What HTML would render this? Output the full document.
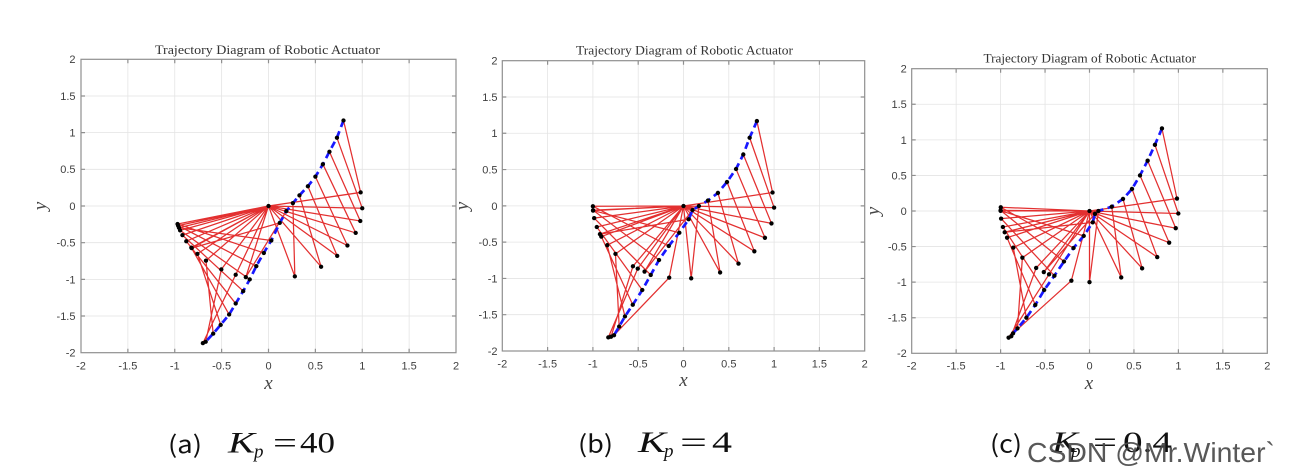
<!DOCTYPE html>
<html>
<head>
<meta charset="utf-8">
<style>
html,body{margin:0;padding:0;background:#fff;}
svg{display:block;}
.tk{font-family:"Liberation Sans",sans-serif;font-size:11px;fill:#404040;}
.ttl{font-family:"Liberation Serif",serif;font-size:13px;fill:#333;}
.al{font-family:"Liberation Serif",serif;font-style:italic;font-size:19px;fill:#444;}
.red{fill:none;stroke:#e01a1a;stroke-width:1.25;stroke-opacity:0.9;}
.blue{fill:none;stroke:#1818ff;stroke-width:2.7;stroke-dasharray:7 4.5;}
.grid{fill:none;stroke:#e4e4e4;stroke-width:0.8;}
.ax{fill:none;stroke:#8f8f8f;stroke-width:1.2;}
.cap{font-family:"Noto Sans CJK SC","Liberation Sans",sans-serif;font-size:24px;fill:#111;}
.mk{font-family:"Liberation Serif",serif;font-style:italic;fill:#111;}
.mn{font-family:"Liberation Serif",serif;fill:#111;}
</style>
</head>
<body>
<svg width="1292" height="472" viewBox="0 0 1292 472" xmlns="http://www.w3.org/2000/svg">
<rect width="1292" height="472" fill="#fff"/>

<!-- ================= PLOT 1 ================= -->
<path class="grid" d="M127.875 59.3V352.7M174.75 59.3V352.7M221.625 59.3V352.7M268.5 59.3V352.7M315.375 59.3V352.7M362.25 59.3V352.7M409.125 59.3V352.7M81 95.975H456M81 132.65H456M81 169.325H456M81 206H456M81 242.675H456M81 279.35H456M81 316.025H456"/>
<rect class="ax" x="81" y="59.3" width="375" height="293.4"/>
<path class="ax" d="M127.875 352.7v-4M174.75 352.7v-4M221.625 352.7v-4M268.5 352.7v-4M315.375 352.7v-4M362.25 352.7v-4M409.125 352.7v-4M127.875 59.3v4M174.75 59.3v4M221.625 59.3v4M268.5 59.3v4M315.375 59.3v4M362.25 59.3v4M409.125 59.3v4M81 95.975h4M81 132.65h4M81 169.325h4M81 206h4M81 242.675h4M81 279.35h4M81 316.025h4M456 95.975h-4M456 132.65h-4M456 169.325h-4M456 206h-4M456 242.675h-4M456 279.35h-4M456 316.025h-4"/>
<text class="ttl" x="155" y="54" textLength="225" lengthAdjust="spacingAndGlyphs">Trajectory Diagram of Robotic Actuator</text>
<g class="tk" text-anchor="end">
<text x="75.5" y="63.2">2</text><text x="75.5" y="99.9">1.5</text><text x="75.5" y="136.6">1</text><text x="75.5" y="173.2">0.5</text><text x="75.5" y="209.9">0</text><text x="75.5" y="246.6">-0.5</text><text x="75.5" y="283.3">-1</text><text x="75.5" y="319.9">-1.5</text><text x="75.5" y="356.6">-2</text>
</g>
<g class="tk" text-anchor="middle">
<text x="81" y="369.5">-2</text><text x="127.9" y="369.5">-1.5</text><text x="174.75" y="369.5">-1</text><text x="221.6" y="369.5">-0.5</text><text x="268.5" y="369.5">0</text><text x="315.4" y="369.5">0.5</text><text x="362.25" y="369.5">1</text><text x="409.1" y="369.5">1.5</text><text x="456" y="369.5">2</text>
</g>
<text class="al" x="268.5" y="389" text-anchor="middle">x</text>
<text class="al" transform="translate(46,206) rotate(-90)" text-anchor="middle">y</text>
<g transform="translate(268.5,206) scale(93.75,-73.35)">
<path class="red" vector-effect="non-scaling-stroke" d="M0 0L.983 .185L.80 1.166M0 0L1 -.03L.73 .93M0 0L.979 -.204L.65 .74M0 0L.93 -.367L.58 .57M0 0L.842 -.539L.5 .4M0 0L.733 -.68L.42 .27M0 0L.561 -.828L.33 .145M0 0L.281 -.96L.26 .04M0 0L-.242 -.97L.19 -.07M0 0L-.819 -.574L.12 -.23M0 0L-.955 -.297L.03 -.47M0 0L-.97 -.245L-.05 -.64M0 0L-.964 -.267L-.13 -.82M0 0L-.943 -.332L-.2 -1M0 0L-.918 -.397L-.27 -1.16M0 0L-.877 -.48L-.35 -1.33M0 0L-.823 -.568L-.42 -1.48M0 0L-.758 -.652L-.51 -1.62M0 0L-.667 -.745L-.59 -1.74M0 0L-.503 -.864L-.67 -1.85M0 0L-.35 -.937L-.7 -1.87"/>
</g>
<polyline class="blue" points="343.5,120.5 336.9,137.8 329.4,151.7 322.9,164.2 315.4,176.7 307.9,186.2 299.4,195.4 292.9,203.1 286.3,211.1 279.8,222.9 271.3,240.5 263.8,252.9 256.3,266.1 249.8,279.4 243.2,291.1 235.7,303.6 229.1,314.6 220.7,324.8 213.2,333.6 205.7,341.7 202.9,343.2"/>
<g transform="translate(268.5,206) scale(93.75,-73.35)" fill="#000">
<ellipse cx="0" cy="0" rx=".023" ry=".029"/>
<ellipse cx=".983" cy=".185" rx=".023" ry=".029"/><ellipse cx=".80" cy="1.166" rx=".023" ry=".029"/>
<ellipse cx="1" cy="-.03" rx=".023" ry=".029"/><ellipse cx=".73" cy=".93" rx=".023" ry=".029"/>
<ellipse cx=".979" cy="-.204" rx=".023" ry=".029"/><ellipse cx=".65" cy=".74" rx=".023" ry=".029"/>
<ellipse cx=".93" cy="-.367" rx=".023" ry=".029"/><ellipse cx=".58" cy=".57" rx=".023" ry=".029"/>
<ellipse cx=".842" cy="-.539" rx=".023" ry=".029"/><ellipse cx=".5" cy=".4" rx=".023" ry=".029"/>
<ellipse cx=".733" cy="-.68" rx=".023" ry=".029"/><ellipse cx=".42" cy=".27" rx=".023" ry=".029"/>
<ellipse cx=".561" cy="-.828" rx=".023" ry=".029"/><ellipse cx=".33" cy=".145" rx=".023" ry=".029"/>
<ellipse cx=".281" cy="-.96" rx=".023" ry=".029"/><ellipse cx=".26" cy=".04" rx=".023" ry=".029"/>
<ellipse cx="-.242" cy="-.97" rx=".023" ry=".029"/><ellipse cx=".19" cy="-.07" rx=".023" ry=".029"/>
<ellipse cx="-.819" cy="-.574" rx=".023" ry=".029"/><ellipse cx=".12" cy="-.23" rx=".023" ry=".029"/>
<ellipse cx="-.955" cy="-.297" rx=".023" ry=".029"/><ellipse cx=".03" cy="-.47" rx=".023" ry=".029"/>
<ellipse cx="-.97" cy="-.245" rx=".023" ry=".029"/><ellipse cx="-.05" cy="-.64" rx=".023" ry=".029"/>
<ellipse cx="-.964" cy="-.267" rx=".023" ry=".029"/><ellipse cx="-.13" cy="-.82" rx=".023" ry=".029"/>
<ellipse cx="-.943" cy="-.332" rx=".023" ry=".029"/><ellipse cx="-.2" cy="-1" rx=".023" ry=".029"/>
<ellipse cx="-.918" cy="-.397" rx=".023" ry=".029"/><ellipse cx="-.27" cy="-1.16" rx=".023" ry=".029"/>
<ellipse cx="-.877" cy="-.48" rx=".023" ry=".029"/><ellipse cx="-.35" cy="-1.33" rx=".023" ry=".029"/>
<ellipse cx="-.823" cy="-.568" rx=".023" ry=".029"/><ellipse cx="-.42" cy="-1.48" rx=".023" ry=".029"/>
<ellipse cx="-.758" cy="-.652" rx=".023" ry=".029"/><ellipse cx="-.51" cy="-1.62" rx=".023" ry=".029"/>
<ellipse cx="-.667" cy="-.745" rx=".023" ry=".029"/><ellipse cx="-.59" cy="-1.74" rx=".023" ry=".029"/>
<ellipse cx="-.503" cy="-.864" rx=".023" ry=".029"/><ellipse cx="-.67" cy="-1.85" rx=".023" ry=".029"/>
<ellipse cx="-.35" cy="-.937" rx=".023" ry=".029"/><ellipse cx="-.7" cy="-1.87" rx=".023" ry=".029"/>
</g>

<!-- ================= PLOT 2 ================= -->
<path class="grid" d="M547.6 60.7V351M592.9 60.7V351M638.2 60.7V351M683.5 60.7V351M728.8 60.7V351M774.1 60.7V351M819.4 60.7V351M502.3 96.99H864.7M502.3 133.28H864.7M502.3 169.56H864.7M502.3 205.85H864.7M502.3 242.14H864.7M502.3 278.43H864.7M502.3 314.71H864.7"/>
<rect class="ax" x="502.3" y="60.7" width="362.4" height="290.3"/>
<path class="ax" d="M547.6 351v-4M592.9 351v-4M638.2 351v-4M683.5 351v-4M728.8 351v-4M774.1 351v-4M819.4 351v-4M547.6 60.7v4M592.9 60.7v4M638.2 60.7v4M683.5 60.7v4M728.8 60.7v4M774.1 60.7v4M819.4 60.7v4M502.3 96.99h4M502.3 133.28h4M502.3 169.56h4M502.3 205.85h4M502.3 242.14h4M502.3 278.43h4M502.3 314.71h4M864.7 96.99h-4M864.7 133.28h-4M864.7 169.56h-4M864.7 205.85h-4M864.7 242.14h-4M864.7 278.43h-4M864.7 314.71h-4"/>
<text class="ttl" x="576" y="54.5" textLength="217" lengthAdjust="spacingAndGlyphs">Trajectory Diagram of Robotic Actuator</text>
<g class="tk" text-anchor="end">
<text x="497.5" y="64.6">2</text><text x="497.5" y="100.9">1.5</text><text x="497.5" y="137.2">1</text><text x="497.5" y="173.5">0.5</text><text x="497.5" y="209.8">0</text><text x="497.5" y="246.1">-0.5</text><text x="497.5" y="282.3">-1</text><text x="497.5" y="318.6">-1.5</text><text x="497.5" y="354.9">-2</text>
</g>
<g class="tk" text-anchor="middle">
<text x="502.3" y="367.5">-2</text><text x="547.6" y="367.5">-1.5</text><text x="592.9" y="367.5">-1</text><text x="638.2" y="367.5">-0.5</text><text x="683.5" y="367.5">0</text><text x="728.8" y="367.5">0.5</text><text x="774.1" y="367.5">1</text><text x="819.4" y="367.5">1.5</text><text x="864.7" y="367.5">2</text>
</g>
<text class="al" x="683.5" y="386" text-anchor="middle">x</text>
<text class="al" transform="translate(468,206) rotate(-90)" text-anchor="middle">y</text>
<g transform="translate(683.5,206) scale(90.6,-72.6)">
<path class="red" vector-effect="non-scaling-stroke" d="M0 0L.983 .186L.81 1.17M0 0L1 -.023L.73 .94M0 0L.971 -.24L.66 .71M0 0L.899 -.438L.58 .51M0 0L.782 -.624L.48 .33M0 0L.607 -.794L.38 .18M0 0L.404 -.915L.27 .076M0 0L.085 -.996L.17 0M0 0L-.43 -.903L.1 -.055M0 0L-.922 -.387L.057 -.183M0 0L-.998 -.063L-.046 -.368M0 0L-1 -.003L-.163 -.551M0 0L-.998 -.058L-.27 -.744M0 0L-.986 -.167L-.362 -.95M0 0L-.957 -.289L-.455 -1.157M0 0L-.907 -.421L-.56 -1.36M0 0L-.842 -.54L-.646 -1.52M0 0L-.751 -.66L-.71 -1.66M0 0L-.158 -.987L-.767 -1.78M0 0L-.558 -.83L-.8 -1.8M0 0L-.505 -.863L-.83 -1.81"/>
</g>
<polyline class="blue" points="756.9,121.1 749.6,137.8 743.3,154.5 736.0,169.0 727.0,182.0 717.9,192.9 708.0,200.5 698.9,206.0 692.6,210.0 688.7,219.3 679.3,232.7 668.7,246.0 659.0,260.0 650.7,275.0 642.3,290.0 632.8,304.7 625.0,316.4 619.2,326.5 614.0,335.2 611.0,336.7 608.3,337.4"/>
<g transform="translate(683.5,206) scale(90.6,-72.6)" fill="#000">
<ellipse cx="0" cy="0" rx=".024" ry=".0295"/>
<ellipse cx=".983" cy=".186" rx=".024" ry=".0295"/><ellipse cx=".81" cy="1.17" rx=".024" ry=".0295"/>
<ellipse cx="1" cy="-.023" rx=".024" ry=".0295"/><ellipse cx=".73" cy=".94" rx=".024" ry=".0295"/>
<ellipse cx=".971" cy="-.24" rx=".024" ry=".0295"/><ellipse cx=".66" cy=".71" rx=".024" ry=".0295"/>
<ellipse cx=".899" cy="-.438" rx=".024" ry=".0295"/><ellipse cx=".58" cy=".51" rx=".024" ry=".0295"/>
<ellipse cx=".782" cy="-.624" rx=".024" ry=".0295"/><ellipse cx=".48" cy=".33" rx=".024" ry=".0295"/>
<ellipse cx=".607" cy="-.794" rx=".024" ry=".0295"/><ellipse cx=".38" cy=".18" rx=".024" ry=".0295"/>
<ellipse cx=".404" cy="-.915" rx=".024" ry=".0295"/><ellipse cx=".27" cy=".076" rx=".024" ry=".0295"/>
<ellipse cx=".085" cy="-.996" rx=".024" ry=".0295"/><ellipse cx=".17" cy="0" rx=".024" ry=".0295"/>
<ellipse cx="-.43" cy="-.903" rx=".024" ry=".0295"/><ellipse cx=".1" cy="-.055" rx=".024" ry=".0295"/>
<ellipse cx="-.922" cy="-.387" rx=".024" ry=".0295"/><ellipse cx=".057" cy="-.183" rx=".024" ry=".0295"/>
<ellipse cx="-.998" cy="-.063" rx=".024" ry=".0295"/><ellipse cx="-.046" cy="-.368" rx=".024" ry=".0295"/>
<ellipse cx="-1" cy="-.003" rx=".024" ry=".0295"/><ellipse cx="-.163" cy="-.551" rx=".024" ry=".0295"/>
<ellipse cx="-.998" cy="-.058" rx=".024" ry=".0295"/><ellipse cx="-.27" cy="-.744" rx=".024" ry=".0295"/>
<ellipse cx="-.986" cy="-.167" rx=".024" ry=".0295"/><ellipse cx="-.362" cy="-.95" rx=".024" ry=".0295"/>
<ellipse cx="-.957" cy="-.289" rx=".024" ry=".0295"/><ellipse cx="-.455" cy="-1.157" rx=".024" ry=".0295"/>
<ellipse cx="-.907" cy="-.421" rx=".024" ry=".0295"/><ellipse cx="-.56" cy="-1.36" rx=".024" ry=".0295"/>
<ellipse cx="-.842" cy="-.54" rx=".024" ry=".0295"/><ellipse cx="-.646" cy="-1.52" rx=".024" ry=".0295"/>
<ellipse cx="-.751" cy="-.66" rx=".024" ry=".0295"/><ellipse cx="-.71" cy="-1.66" rx=".024" ry=".0295"/>
<ellipse cx="-.158" cy="-.987" rx=".024" ry=".0295"/><ellipse cx="-.767" cy="-1.78" rx=".024" ry=".0295"/>
<ellipse cx="-.558" cy="-.83" rx=".024" ry=".0295"/><ellipse cx="-.8" cy="-1.8" rx=".024" ry=".0295"/>
<ellipse cx="-.505" cy="-.863" rx=".024" ry=".0295"/><ellipse cx="-.83" cy="-1.81" rx=".024" ry=".0295"/>
</g>

<!-- ================= PLOT 3 ================= -->
<path class="grid" d="M956.15 68.7V353.3M1000.6 68.7V353.3M1045.05 68.7V353.3M1089.5 68.7V353.3M1133.95 68.7V353.3M1178.4 68.7V353.3M1222.85 68.7V353.3M911.7 104.275H1267.3M911.7 139.85H1267.3M911.7 175.425H1267.3M911.7 211H1267.3M911.7 246.575H1267.3M911.7 282.15H1267.3M911.7 317.725H1267.3"/>
<rect class="ax" x="911.7" y="68.7" width="355.6" height="284.6"/>
<path class="ax" d="M956.15 353.3v-4M1000.6 353.3v-4M1045.05 353.3v-4M1089.5 353.3v-4M1133.95 353.3v-4M1178.4 353.3v-4M1222.85 353.3v-4M956.15 68.7v4M1000.6 68.7v4M1045.05 68.7v4M1089.5 68.7v4M1133.95 68.7v4M1178.4 68.7v4M1222.85 68.7v4M911.7 104.275h4M911.7 139.85h4M911.7 175.425h4M911.7 211h4M911.7 246.575h4M911.7 282.15h4M911.7 317.725h4M1267.3 104.275h-4M1267.3 139.85h-4M1267.3 175.425h-4M1267.3 211h-4M1267.3 246.575h-4M1267.3 282.15h-4M1267.3 317.725h-4"/>
<text class="ttl" x="983.5" y="62.5" textLength="212.5" lengthAdjust="spacingAndGlyphs">Trajectory Diagram of Robotic Actuator</text>
<g class="tk" text-anchor="end">
<text x="906.8" y="72.6">2</text><text x="906.8" y="108.2">1.5</text><text x="906.8" y="143.8">1</text><text x="906.8" y="179.3">0.5</text><text x="906.8" y="214.9">0</text><text x="906.8" y="250.5">-0.5</text><text x="906.8" y="286.1">-1</text><text x="906.8" y="321.6">-1.5</text><text x="906.8" y="357.2">-2</text>
</g>
<g class="tk" text-anchor="middle">
<text x="911.7" y="369.5">-2</text><text x="956.15" y="369.5">-1.5</text><text x="1000.6" y="369.5">-1</text><text x="1045.05" y="369.5">-0.5</text><text x="1089.5" y="369.5">0</text><text x="1133.95" y="369.5">0.5</text><text x="1178.4" y="369.5">1</text><text x="1222.85" y="369.5">1.5</text><text x="1267.3" y="369.5">2</text>
</g>
<text class="al" x="1089" y="389" text-anchor="middle">x</text>
<text class="al" transform="translate(879,211) rotate(-90)" text-anchor="middle">y</text>
<g transform="translate(1089.5,211) scale(88.9,-71.15)">
<path class="red" vector-effect="non-scaling-stroke" d="M0 0L.984 .175L.815 1.16M0 0L.999 -.035L.736 .93M0 0L.97 -.242L.654 .707M0 0L.896 -.445L.568 .5M0 0L.762 -.648L.478 .31M0 0L.592 -.806L.377 .17M0 0L.357 -.934L.25 .06M0 0L0 -1L.1 0M0 0L-.514 -.858L.062 -.04M0 0L-.954 -.299L.036 -.16M0 0L-1 .003L-.065 -.35M0 0L-.998 .052L-.18 -.52M0 0L-1 .009L-.287 -.71M0 0L-.994 -.107L-.395 -.91M0 0L-.974 -.225L-.51 -1.11M0 0L-.927 -.375L-.61 -1.32M0 0L-.857 -.515L-.71 -1.5M0 0L-.755 -.656L-.81 -1.65M0 0L-.204 -.979L-.86 -1.72M0 0L-.6 -.8L-.88 -1.76M0 0L-.455 -.89L-.91 -1.78"/>
</g>
<polyline class="blue" points="1161.95,128.5 1154.9,144.8 1147.6,160.7 1140.0,175.4 1132.0,189.0 1123.0,198.9 1111.7,206.7 1098.4,211.0 1095.0,213.8 1092.7,222.4 1083.7,235.9 1073.5,248.0 1064.0,261.5 1054.4,275.7 1044.2,290.0 1035.3,304.9 1026.4,317.7 1017.5,328.4 1013.0,333.4 1011.3,336.2 1008.6,337.6"/>
<g transform="translate(1089.5,211) scale(88.9,-71.15)" fill="#000">
<ellipse cx="0" cy="0" rx=".0245" ry=".0305"/>
<ellipse cx=".984" cy=".175" rx=".0245" ry=".0305"/><ellipse cx=".815" cy="1.16" rx=".0245" ry=".0305"/>
<ellipse cx=".999" cy="-.035" rx=".0245" ry=".0305"/><ellipse cx=".736" cy=".93" rx=".0245" ry=".0305"/>
<ellipse cx=".97" cy="-.242" rx=".0245" ry=".0305"/><ellipse cx=".654" cy=".707" rx=".0245" ry=".0305"/>
<ellipse cx=".896" cy="-.445" rx=".0245" ry=".0305"/><ellipse cx=".568" cy=".5" rx=".0245" ry=".0305"/>
<ellipse cx=".762" cy="-.648" rx=".0245" ry=".0305"/><ellipse cx=".478" cy=".31" rx=".0245" ry=".0305"/>
<ellipse cx=".592" cy="-.806" rx=".0245" ry=".0305"/><ellipse cx=".377" cy=".17" rx=".0245" ry=".0305"/>
<ellipse cx=".357" cy="-.934" rx=".0245" ry=".0305"/><ellipse cx=".25" cy=".06" rx=".0245" ry=".0305"/>
<ellipse cx="0" cy="-1" rx=".0245" ry=".0305"/><ellipse cx=".1" cy="0" rx=".0245" ry=".0305"/>
<ellipse cx="-.514" cy="-.858" rx=".0245" ry=".0305"/><ellipse cx=".062" cy="-.04" rx=".0245" ry=".0305"/>
<ellipse cx="-.954" cy="-.299" rx=".0245" ry=".0305"/><ellipse cx=".036" cy="-.16" rx=".0245" ry=".0305"/>
<ellipse cx="-1" cy=".003" rx=".0245" ry=".0305"/><ellipse cx="-.065" cy="-.35" rx=".0245" ry=".0305"/>
<ellipse cx="-.998" cy=".052" rx=".0245" ry=".0305"/><ellipse cx="-.18" cy="-.52" rx=".0245" ry=".0305"/>
<ellipse cx="-1" cy=".009" rx=".0245" ry=".0305"/><ellipse cx="-.287" cy="-.71" rx=".0245" ry=".0305"/>
<ellipse cx="-.994" cy="-.107" rx=".0245" ry=".0305"/><ellipse cx="-.395" cy="-.91" rx=".0245" ry=".0305"/>
<ellipse cx="-.974" cy="-.225" rx=".0245" ry=".0305"/><ellipse cx="-.51" cy="-1.11" rx=".0245" ry=".0305"/>
<ellipse cx="-.927" cy="-.375" rx=".0245" ry=".0305"/><ellipse cx="-.61" cy="-1.32" rx=".0245" ry=".0305"/>
<ellipse cx="-.857" cy="-.515" rx=".0245" ry=".0305"/><ellipse cx="-.71" cy="-1.5" rx=".0245" ry=".0305"/>
<ellipse cx="-.755" cy="-.656" rx=".0245" ry=".0305"/><ellipse cx="-.81" cy="-1.65" rx=".0245" ry=".0305"/>
<ellipse cx="-.204" cy="-.979" rx=".0245" ry=".0305"/><ellipse cx="-.86" cy="-1.72" rx=".0245" ry=".0305"/>
<ellipse cx="-.6" cy="-.8" rx=".0245" ry=".0305"/><ellipse cx="-.88" cy="-1.76" rx=".0245" ry=".0305"/>
<ellipse cx="-.455" cy="-.89" rx=".0245" ry=".0305"/><ellipse cx="-.91" cy="-1.78" rx=".0245" ry=".0305"/>
</g>

<!-- ================= CAPTIONS ================= -->
<text class="cap" x="168" y="453" textLength="34" lengthAdjust="spacingAndGlyphs">(a)</text>
<text class="mk" x="228" y="452.5" font-size="30" textLength="27" lengthAdjust="spacingAndGlyphs">K</text>
<text class="mk" x="254" y="457.5" font-size="19">p</text>
<text class="mn" x="273" y="452.5" font-size="30" textLength="24" lengthAdjust="spacingAndGlyphs">=</text>
<text class="mn" x="300" y="452.5" font-size="30" textLength="35" lengthAdjust="spacingAndGlyphs">40</text>

<text class="cap" x="578" y="452.5" textLength="35" lengthAdjust="spacingAndGlyphs">(b)</text>
<text class="mk" x="638" y="452" font-size="30" textLength="28" lengthAdjust="spacingAndGlyphs">K</text>
<text class="mk" x="664" y="457" font-size="19">p</text>
<text class="mn" x="680" y="452" font-size="30" textLength="27" lengthAdjust="spacingAndGlyphs">=</text>
<text class="mn" x="712" y="452" font-size="30" textLength="20" lengthAdjust="spacingAndGlyphs">4</text>

<text class="cap" x="990" y="452.5" textLength="32" lengthAdjust="spacingAndGlyphs">(c)</text>
<text class="mk" x="1052" y="452" font-size="30" textLength="26" lengthAdjust="spacingAndGlyphs">K</text>
<text class="mk" x="1071" y="457" font-size="19">p</text>
<text class="mn" x="1093" y="452" font-size="30" textLength="24" lengthAdjust="spacingAndGlyphs">=</text>
<text class="mn" x="1123" y="452" font-size="30" textLength="49" lengthAdjust="spacingAndGlyphs">0.4</text>

<text x="1027" y="462" font-family="Liberation Sans, sans-serif" font-size="28" fill="#4a4a4a" fill-opacity="0.92" textLength="248" lengthAdjust="spacingAndGlyphs">CSDN @Mr.Winter`</text>
</svg>
</body>
</html>
